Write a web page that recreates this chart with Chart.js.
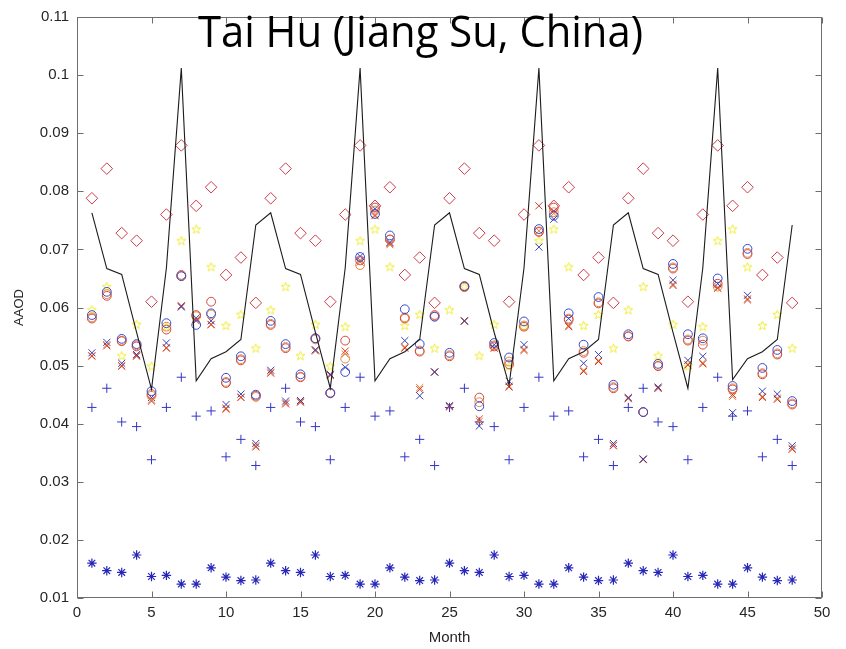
<!DOCTYPE html>
<html><head><meta charset="utf-8">
<script src="https://cdn.jsdelivr.net/npm/chart.js@4.4.1/dist/chart.umd.min.js"></script>
<style>html,body{margin:0;padding:0;background:#fff;}#wrap{position:relative;width:846px;height:649px;}</style>
</head><body><div id="wrap"><canvas id="c" width="846" height="649"></canvas></div>
<script>
const chartTitle = 'Tai Hu (Jiang Su, China)';
const xAxisTitle = 'Month';
const yAxisTitle = 'AAOD';

const months = [1,2,3,4,5,6,7,8,9,10,11,12,13,14,15,16,17,18,19,20,21,22,23,24,25,26,27,28,29,30,31,32,33,34,35,36,37,38,39,40,41,42,43,44,45,46,47,48];
const xTickValues = [0,5,10,15,20,25,30,35,40,45,50];
const xTickLabels = ['0','5','10','15','20','25','30','35','40','45','50'];
const yTickValues = [0.01,0.02,0.03,0.04,0.05,0.06,0.07,0.08,0.09,0.1,0.11];
const yTickLabels = ['0.01','0.02','0.03','0.04','0.05','0.06','0.07','0.08','0.09','0.1','0.11'];

const lineAAOD = [
0.0763,0.0667,0.0657,0.0557,0.0459,0.0668,0.1012,0.0474,0.0512,0.0524,0.0545,0.0742,
0.0763,0.0667,0.0657,0.0557,0.0461,0.0668,0.1012,0.0474,0.0512,0.0524,0.0545,0.0742,
0.0763,0.0667,0.0657,0.0557,0.0466,0.0668,0.1012,0.0474,0.0512,0.0524,0.0545,0.0742,
0.0763,0.0667,0.0657,0.0557,0.0461,0.0668,0.1012,0.0476,0.0512,0.0524,0.0545,0.0742];
const diamondAAOD = [
0.0788,0.0839,0.0728,0.0715,0.0610,0.0760,0.0879,0.0775,0.0807,0.0656,0.0686,0.0608,
0.0788,0.0839,0.0728,0.0715,0.0610,0.0760,0.0879,0.0775,0.0807,0.0656,0.0686,0.0608,
0.0788,0.0839,0.0728,0.0715,0.0610,0.0760,0.0879,0.0775,0.0807,0.0656,0.0686,0.0608,
0.0788,0.0839,0.0728,0.0715,0.0610,0.0760,0.0879,0.0775,0.0807,0.0656,0.0686,0.0608];
const starAAOD = [
0.0596,0.0636,0.0517,0.0571,0.0499,0.0567,0.0715,0.0735,0.0670,0.0569,0.0588,0.0530,
0.0596,0.0636,0.0517,0.0571,0.0499,0.0567,0.0715,0.0735,0.0670,0.0569,0.0588,0.0530,
0.0596,0.0636,0.0517,0.0571,0.0499,0.0567,0.0715,0.0735,0.0670,0.0569,0.0588,0.0530,
0.0596,0.0636,0.0517,0.0571,0.0499,0.0567,0.0715,0.0735,0.0670,0.0569,0.0588,0.0530];
const plusAAOD = [
0.0428,0.0461,0.0403,0.0395,0.0338,0.0428,0.0480,0.0413,0.0422,0.0343,0.0373,0.0328,
0.0428,0.0461,0.0403,0.0395,0.0338,0.0428,0.0480,0.0413,0.0422,0.0343,0.0373,0.0328,
0.0428,0.0461,0.0403,0.0395,0.0338,0.0428,0.0480,0.0413,0.0422,0.0343,0.0373,0.0328,
0.0428,0.0461,0.0403,0.0395,0.0338,0.0428,0.0480,0.0413,0.0422,0.0343,0.0373,0.0328];
const asteriskAAOD = [
0.0160,0.0147,0.0144,0.0174,0.0137,0.0139,0.0124,0.0124,0.0152,0.0136,0.0130,0.0131,
0.0160,0.0147,0.0144,0.0174,0.0137,0.0139,0.0124,0.0124,0.0152,0.0136,0.0130,0.0131,
0.0160,0.0147,0.0144,0.0174,0.0137,0.0139,0.0124,0.0124,0.0152,0.0136,0.0130,0.0131,
0.0160,0.0147,0.0144,0.0174,0.0137,0.0139,0.0124,0.0124,0.0152,0.0136,0.0130,0.0131];
const circleBlueAAOD = [
0.0587,0.0627,0.0546,0.0537,0.0456,0.0573,0.0654,0.0570,0.0590,0.0479,0.0516,0.0450,
0.0577,0.0537,0.0485,0.0547,0.0453,0.0489,0.0687,0.0761,0.0724,0.0597,0.0537,0.0584,
0.0522,0.0636,0.0430,0.0539,0.0514,0.0576,0.0735,0.0758,0.0590,0.0536,0.0618,0.0467,
0.0554,0.0420,0.0503,0.0675,0.0554,0.0547,0.0650,0.0465,0.0701,0.0496,0.0527,0.0439];
const circleRedAAOD = [
0.0581,0.0620,0.0542,0.0533,0.0451,0.0562,0.0656,0.0587,0.0610,0.0470,0.0509,0.0448,
0.0570,0.0530,0.0480,0.0547,0.0453,0.0543,0.0681,0.0772,0.0717,0.0581,0.0524,0.0587,
0.0516,0.0637,0.0445,0.0533,0.0502,0.0567,0.0730,0.0772,0.0579,0.0522,0.0607,0.0461,
0.0550,0.0420,0.0499,0.0667,0.0543,0.0536,0.0641,0.0459,0.0692,0.0485,0.0519,0.0433];
const circleOrangeAAOD = [
0.0583,0.0623,0.0543,0.0535,0.0448,0.0567,0.0654,0.0585,0.0588,0.0472,0.0511,0.0446,
0.0572,0.0532,0.0481,0.0545,0.0452,0.0512,0.0673,0.0767,0.0717,0.0583,0.0526,0.0585,
0.0518,0.0635,0.0437,0.0535,0.0507,0.0569,0.0731,0.0764,0.0581,0.0525,0.0609,0.0463,
0.0551,0.0420,0.0500,0.0669,0.0545,0.0543,0.0636,0.0461,0.0694,0.0487,0.0521,0.0435];
const xBlueAAOD = [
0.0522,0.0540,0.0504,0.0519,0.0445,0.0539,0.0601,0.0582,0.0577,0.0433,0.0451,0.0366,
0.0492,0.0439,0.0440,0.0527,0.0485,0.0497,0.0688,0.0770,0.0712,0.0543,0.0448,0.0489,
0.0431,0.0577,0.0396,0.0536,0.0473,0.0536,0.0704,0.0752,0.0581,0.0504,0.0519,0.0366,
0.0445,0.0339,0.0463,0.0647,0.0509,0.0516,0.0641,0.0419,0.0621,0.0456,0.0451,0.0362];
const xRedAAOD = [
0.0517,0.0534,0.0499,0.0517,0.0439,0.0530,0.0603,0.0577,0.0571,0.0425,0.0445,0.0360,
0.0487,0.0434,0.0437,0.0527,0.0483,0.0525,0.0681,0.0758,0.0710,0.0530,0.0459,0.0489,
0.0429,0.0577,0.0408,0.0530,0.0463,0.0526,0.0775,0.0766,0.0567,0.0490,0.0507,0.0362,
0.0444,0.0339,0.0461,0.0638,0.0501,0.0503,0.0633,0.0450,0.0613,0.0445,0.0442,0.0356];
const xOrangeAAOD = [
0.0516,0.0536,0.0500,0.0516,0.0441,0.0531,0.0602,0.0579,0.0570,0.0427,0.0446,0.0362,
0.0489,0.0436,0.0438,0.0525,0.0484,0.0520,0.0678,0.0760,0.0708,0.0532,0.0462,0.0489,
0.0430,0.0576,0.0404,0.0531,0.0465,0.0528,0.0732,0.0762,0.0569,0.0492,0.0509,0.0363,
0.0443,0.0338,0.0461,0.0640,0.0502,0.0505,0.0635,0.0447,0.0615,0.0447,0.0444,0.0358];

function pts(vals){ return months.map((m,i)=>({x:m, y:vals[i]})); }

// pentagram marker
const star = document.createElement('canvas');
star.width = 11; star.height = 11;
(function(){
  const g = star.getContext('2d');
  const cx = 5.5, cy = 5.8, R = 4.8, r = 1.95;
  g.beginPath();
  for (let k=0;k<10;k++){
    const ang = -Math.PI/2 + k*Math.PI/5;
    const rad = k%2===0 ? R : r;
    const px = cx + rad*Math.cos(ang), py = cy + rad*Math.sin(ang);
    if (k===0) g.moveTo(px,py); else g.lineTo(px,py);
  }
  g.closePath();
  g.strokeStyle = '#f0ec3a'; g.lineWidth = 1; g.stroke();
})();

function markers(label, vals, style, color, radius, extra){
  return Object.assign({
    type:'scatter', label, data: pts(vals), showLine:false,
    pointStyle: style, pointRadius: radius, pointHoverRadius: radius,
    pointBorderColor: color, pointBackgroundColor: 'rgba(0,0,0,0)', pointBorderWidth: 1
  }, extra||{});
}

const framePlugin = {
  id: 'frame',
  afterDatasetsDraw(chart){
    const {ctx, chartArea:a, scales:{x, y}} = chart;
    const L = Math.round(a.left)+0.5, R = Math.round(a.right)-0.5, T = Math.round(a.top)+0.5, B = Math.round(a.bottom)-0.5;
    ctx.save();
    ctx.strokeStyle = '#6e6e6e'; ctx.lineWidth = 1;
    ctx.strokeRect(L, T, R-L, B-T);
    const tl = 6;
    ctx.beginPath();
    xTickValues.forEach(v=>{
      const p = Math.round(x.getPixelForValue(v))+0.5;
      ctx.moveTo(p, B); ctx.lineTo(p, B-tl);
      ctx.moveTo(p, T); ctx.lineTo(p, T+tl);
    });
    yTickValues.forEach(v=>{
      const p = Math.round(y.getPixelForValue(v))+0.5;
      ctx.moveTo(L, p); ctx.lineTo(L+tl, p);
      ctx.moveTo(R, p); ctx.lineTo(R-tl, p);
    });
    ctx.stroke();
    ctx.restore();
  },
  afterDraw(chart){
    const ctx = chart.ctx;
    ctx.save();
    ctx.font = '400 44px "Open Sans", "Noto Sans", sans-serif';
    ctx.fillStyle = '#000';
    ctx.textBaseline = 'alphabetic';
    const w = ctx.measureText(chartTitle).width;
    const targetW = 445;
    ctx.translate(198, 47);
    ctx.scale(targetW / w, 1);
    ctx.fillText(chartTitle, 0, 0);
    ctx.restore();
  }
};

const tickFont = {family:'"Liberation Sans", Arial, sans-serif', size:15};

new Chart(document.getElementById('c'), {
  type:'scatter',
  data:{ datasets:[
    {type:'line', label:'line', data: pts(lineAAOD), borderColor:'#1c1c1c', borderWidth:1.1, pointRadius:0, fill:false, tension:0},
    markers('diamond', diamondAAOD, 'rectRot', '#cc3c4a', 5.8),
    markers('circleBlue', circleBlueAAOD, 'circle', '#3548d0', 4.4),
    markers('circleRed', circleRedAAOD, 'circle', '#d2473f', 4.4),
    markers('circleOrange', circleOrangeAAOD, 'circle', '#e08a3c', 4.4),
    markers('xBlue', xBlueAAOD, 'crossRot', '#3a3fb0', 5),
    markers('xRed', xRedAAOD, 'crossRot', '#d23a28', 5),
    markers('xOrange', xOrangeAAOD, 'crossRot', '#e47c32', 5),
    markers('star', starAAOD, star, '#f0ec3a', 5),
    markers('plus', plusAAOD, 'cross', '#3535c8', 4.6),
    markers('asterisk', asteriskAAOD, 'star', '#2626b8', 4.7, {pointBorderWidth:1.2})
  ]},
  options:{
    responsive:false, animation:false, devicePixelRatio:1,
    layout:{padding:{top:13, right:24, left:0, bottom:0}},
    plugins:{legend:{display:false}, tooltip:{enabled:false}, title:{display:false}},
    scales:{
      x:{type:'linear', position:'bottom', min:0, max:50,
        afterBuildTicks: s => { s.ticks = xTickValues.map(v=>({value:v})); },
        afterFit: s => { s.height = 51; },
        ticks:{callback:(v,i)=>xTickLabels[i], font:tickFont, color:'#262626', padding:6, maxRotation:0, autoSkip:false},
        grid:{display:false, drawTicks:false}, border:{display:false},
        title:{display:true, text:xAxisTitle, font:{family:'"Liberation Sans", Arial, sans-serif', size:15}, color:'#262626', padding:{top:0, bottom:2}}
      },
      y:{type:'linear', position:'left', min:0.01, max:0.11,
        afterBuildTicks: s => { s.ticks = yTickValues.map(v=>({value:v})); },
        afterFit: s => { s.width = 77; },
        ticks:{callback:(v,i)=>yTickLabels[i], font:tickFont, color:'#262626', padding:8, autoSkip:false},
        grid:{display:false, drawTicks:false}, border:{display:false},
        title:{display:true, text:yAxisTitle, font:{family:'"Liberation Sans", Arial, sans-serif', size:13}, color:'#262626', padding:{top:12, bottom:0}}
      }
    }
  },
  plugins:[framePlugin]
});
</script>
</body></html>
